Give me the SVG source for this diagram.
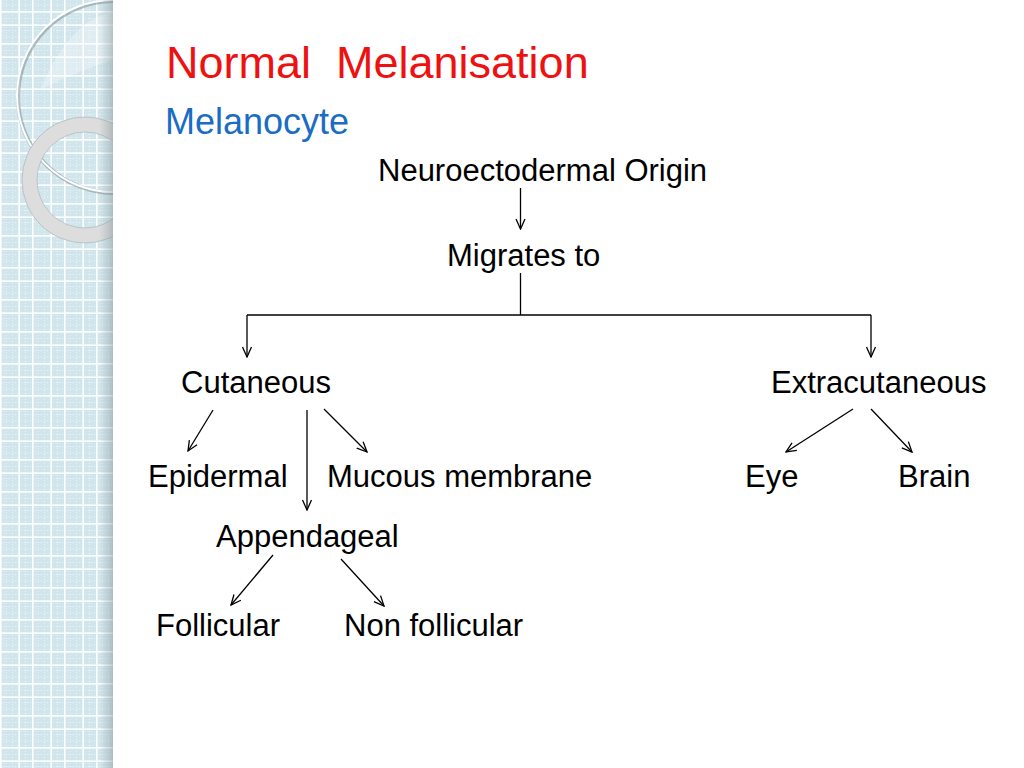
<svg xmlns="http://www.w3.org/2000/svg" width="1024" height="768" viewBox="0 0 1024 768">
  <defs>
    <pattern id="grid" patternUnits="userSpaceOnUse" x="0" y="0" width="32" height="32">
      <rect width="32" height="32" fill="#d1e6ec"/>
      <g stroke="#ffffff" stroke-width="0.8" stroke-dasharray="1,2" opacity="0.7">
        <line x1="6" y1="0" x2="6" y2="32"/>
        <line x1="12.5" y1="0" x2="12.5" y2="32"/>
        <line x1="25.5" y1="0" x2="25.5" y2="32"/>
        <line x1="0" y1="5" x2="32" y2="5"/>
        <line x1="0" y1="18.5" x2="32" y2="18.5"/>
        <line x1="0" y1="30.5" x2="32" y2="30.5"/>
      </g>
      <g fill="#ffffff">
        <rect x="0" y="0" width="1.6" height="32"/>
        <rect x="18.4" y="0" width="1.6" height="32"/>
        <rect x="0" y="11" width="32" height="1.6"/>
        <rect x="0" y="24.4" width="32" height="1.6"/>
      </g>
    </pattern>
    <linearGradient id="shade" x1="0" y1="0" x2="1" y2="0">
      <stop offset="0" stop-color="#8a9aa0" stop-opacity="0"/>
      <stop offset="1" stop-color="#7d8c92" stop-opacity="0.45"/>
    </linearGradient>
    <clipPath id="stripClip">
      <rect x="0" y="0" width="113" height="768"/>
    </clipPath>
    <marker id="arrow" viewBox="0 0 12 12" refX="11" refY="6" markerWidth="12" markerHeight="12" markerUnits="userSpaceOnUse" orient="auto">
      <path d="M1,1.5 L11,6 L1,10.5" fill="none" stroke="#000000" stroke-width="1.3"/>
    </marker>
    <style>
      .lbl { font-family: "Liberation Sans", Arial, Helvetica, sans-serif; font-size: 31px; fill: #000000; }
      .title { font-family: "Liberation Sans", Arial, sans-serif; font-size: 45px; fill: #ee1111; white-space: pre; }
      .sub { font-family: "Liberation Sans", Arial, sans-serif; font-size: 36px; fill: #1a6cc4; }
      .con { stroke: #000000; stroke-width: 1.3; fill: none; }
      .arr { marker-end: url(#arrow); }
    </style>
  </defs>

  <rect width="1024" height="768" fill="#ffffff"/>

  <g id="side-strip">
    <g clip-path="url(#stripClip)">
      <rect x="0" y="0" width="113" height="768" fill="url(#grid)"/>
      <path d="M40,90 Q70,20 113,12 L113,60 Q80,70 40,90 Z" fill="#ffffff" opacity="0.3"/>
      <circle cx="114" cy="97" r="96" fill="none" stroke="#7f9098" stroke-width="4" opacity="0.55"/>
      <circle cx="113" cy="96" r="96" fill="none" stroke="#ffffff" stroke-width="2"/>
      <circle cx="85" cy="180" r="55.5" fill="none" stroke="#dddddd" stroke-width="15"/>
      <circle cx="85" cy="180" r="63" fill="none" stroke="#aab6bb" stroke-width="1" opacity="0.7"/>
      <circle cx="85" cy="180" r="48" fill="none" stroke="#aab6bb" stroke-width="1" opacity="0.7"/>
      <rect x="99" y="0" width="14" height="768" fill="url(#shade)"/>
    </g>
  </g>

  <g id="title">
    <text class="title" x="166" y="78" xml:space="preserve">Normal  Melanisation</text>
  </g>
  <g id="subtitle">
    <text class="sub" x="165" y="134">Melanocyte</text>
  </g>

  <g id="connectors">
    <line class="con arr" x1="520.5" y1="188" x2="520.5" y2="229"/>
    <line class="con" x1="520.5" y1="273" x2="520.5" y2="315"/>
    <line class="con" x1="247" y1="315" x2="871" y2="315"/>
    <line class="con arr" x1="247" y1="315" x2="247" y2="357"/>
    <line class="con arr" x1="871" y1="315" x2="871" y2="357"/>
    <line class="con arr" x1="213" y1="410" x2="188" y2="451"/>
    <line class="con arr" x1="307" y1="410" x2="307" y2="510"/>
    <line class="con arr" x1="324" y1="409" x2="367" y2="452"/>
    <line class="con arr" x1="853" y1="409" x2="786" y2="452"/>
    <line class="con arr" x1="871" y1="409" x2="912" y2="452"/>
    <line class="con arr" x1="273" y1="555" x2="231" y2="605"/>
    <line class="con arr" x1="341" y1="559" x2="384" y2="606"/>
  </g>

  <g id="node-origin"><text class="lbl" x="378" y="181">Neuroectodermal Origin</text></g>
  <g id="node-migrates"><text class="lbl" x="447" y="266">Migrates to</text></g>
  <g id="node-cutaneous"><text class="lbl" x="181" y="393">Cutaneous</text></g>
  <g id="node-extracutaneous"><text class="lbl" x="771" y="393">Extracutaneous</text></g>
  <g id="node-epidermal"><text class="lbl" x="148" y="487">Epidermal</text></g>
  <g id="node-mucous"><text class="lbl" x="327" y="487">Mucous membrane</text></g>
  <g id="node-eye"><text class="lbl" x="745" y="487">Eye</text></g>
  <g id="node-brain"><text class="lbl" x="898" y="487">Brain</text></g>
  <g id="node-appendageal"><text class="lbl" x="216" y="547">Appendageal</text></g>
  <g id="node-follicular"><text class="lbl" x="156" y="636">Follicular</text></g>
  <g id="node-nonfollicular"><text class="lbl" x="344" y="636">Non follicular</text></g>
</svg>
